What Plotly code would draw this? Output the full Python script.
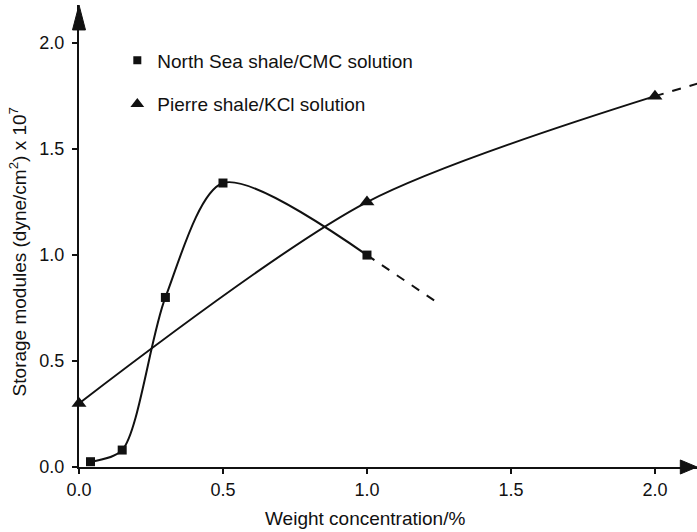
import plotly.graph_objects as go

# Storage modulus vs. weight concentration (values in 10^7 dyne/cm^2)
ns_conc = [0.04, 0.15, 0.30, 0.50, 1.00]
ns_modulus = [0.025, 0.08, 0.80, 1.34, 1.00]
ns_extrap_conc = [1.00, 1.24]
ns_extrap_modulus = [1.00, 0.78]

ps_conc = [0.0, 1.0, 2.0]
ps_modulus = [0.30, 1.25, 1.75]
ps_extrap_conc = [2.0, 2.15]
ps_extrap_modulus = [1.75, 1.81]

ns_name = "North Sea shale/CMC solution"
ps_name = "Pierre shale/KCl solution"

x_ticks = [0.0, 0.5, 1.0, 1.5, 2.0]
y_ticks = [0.0, 0.5, 1.0, 1.5, 2.0]

FONT = "Liberation Sans, Arial, sans-serif"
INK = "#111111"

fig = go.Figure()

# fitted curves through the measured points
fig.add_trace(go.Scatter(
    x=ns_conc, y=ns_modulus, mode="lines+markers",
    line=dict(color=INK, width=2, shape="spline", smoothing=0.8),
    marker=dict(symbol="square", size=9, color=INK),
    showlegend=False, cliponaxis=False))
fig.add_trace(go.Scatter(
    x=ns_extrap_conc, y=ns_extrap_modulus, mode="lines",
    line=dict(color=INK, width=2, dash="dash"),
    showlegend=False))
fig.add_trace(go.Scatter(
    x=ps_conc, y=ps_modulus, mode="lines+markers",
    line=dict(color=INK, width=2, shape="spline", smoothing=0.8),
    marker=dict(symbol="triangle-up", size=13, color=INK),
    showlegend=False, cliponaxis=False))
fig.add_trace(go.Scatter(
    x=ps_extrap_conc, y=ps_extrap_modulus, mode="lines",
    line=dict(color=INK, width=2, dash="dash"),
    showlegend=False, cliponaxis=False))

# legend entries (symbol only)
fig.add_trace(go.Scatter(
    x=[None], y=[None], mode="markers", name=ns_name, legendgroup="ns",
    marker=dict(symbol="square", size=8, color=INK)))
fig.add_trace(go.Scatter(
    x=[None], y=[None], mode="markers", name=ps_name, legendgroup="ps",
    marker=dict(symbol="triangle-up", size=12, color=INK)))

axis_common = dict(
    showline=True, linecolor=INK, linewidth=2,
    ticks="outside", ticklen=5, tickwidth=1.5, tickcolor=INK,
    showgrid=False, zeroline=False,
    tickfont=dict(family=FONT, size=18, color=INK),
    tickformat=".1f",
)

fig.update_layout(
    width=697, height=532,
    margin=dict(l=79, r=0, t=5, b=65),
    paper_bgcolor="white", plot_bgcolor="white",
    font=dict(family=FONT, size=19, color=INK),
    xaxis=dict(range=[0, 2.146], tickvals=x_ticks, **axis_common),
    yaxis=dict(range=[0, 2.18], tickvals=y_ticks, ticklabelstandoff=4,
               **axis_common),
    legend=dict(x=0.062, y=0.921, xanchor="left", yanchor="top",
                bgcolor="rgba(0,0,0,0)", tracegroupgap=16,
                font=dict(family=FONT, size=19, color=INK)),
    annotations=[
        dict(text="Storage modules (dyne/cm<sup>2</sup>) x 10<sup>7</sup>",
             xref="paper", yref="paper", x=-0.121, y=0.465,
             textangle=-90, showarrow=False,
             font=dict(family=FONT, size=19, color=INK)),
        dict(text="Weight concentration/%",
             xref="paper", yref="paper", x=0.463, y=-0.138,
             showarrow=False,
             font=dict(family=FONT, size=19, color=INK)),
    ],
    shapes=[
        # arrowheads at the ends of both axes
        dict(type="path", xref="paper", yref="paper",
             path="M -0.0105 0.946 L 0 1 L 0.0105 0.946 Z",
             fillcolor=INK, line=dict(color=INK, width=1)),
        dict(type="path", xref="paper", yref="paper",
             path="M 0.973 0.0152 L 1 0 L 0.973 -0.0152 Z",
             fillcolor=INK, line=dict(color=INK, width=1)),
    ],
)

fig.write_html("out.html")
